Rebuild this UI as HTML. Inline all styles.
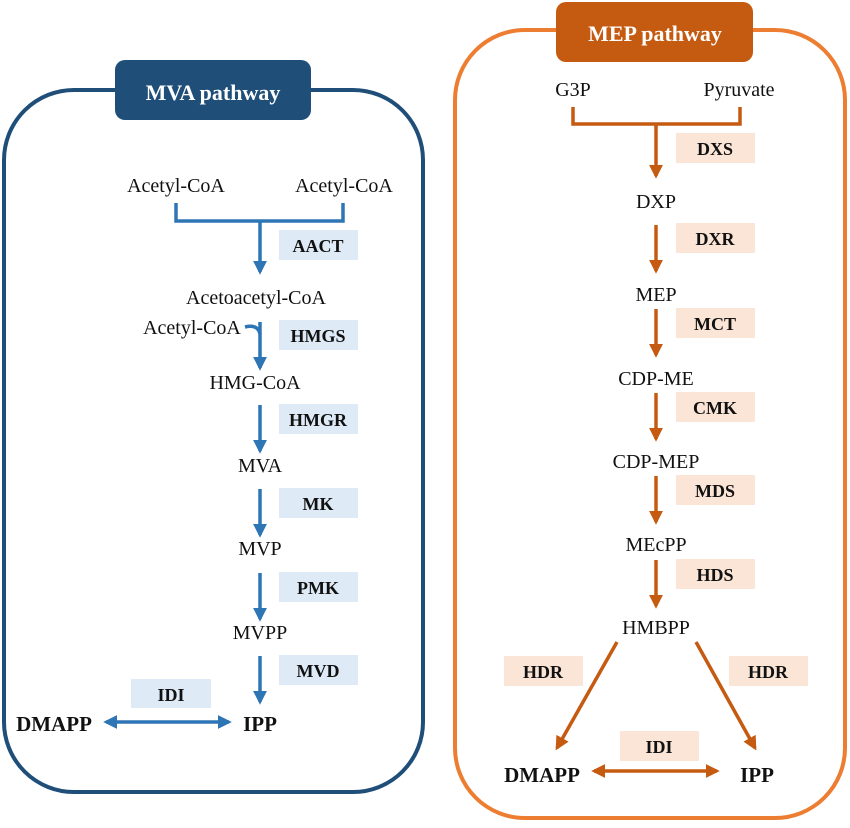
<!DOCTYPE html>
<html><head><meta charset="utf-8"><style>html,body{margin:0;padding:0;background:#fff}svg{display:block}svg text{font-family:"Liberation Serif",serif}</style></head>
<body>
<svg width="850" height="828" viewBox="0 0 850 828" xmlns="http://www.w3.org/2000/svg">
<defs>
<marker id="ab" viewBox="0 0 10 10" refX="8" refY="5" markerWidth="4" markerHeight="4" orient="auto-start-reverse"><path d="M0,0 L10,5 L0,10 z" fill="#2e75b6"/></marker>
<marker id="ao" viewBox="0 0 10 10" refX="8" refY="5" markerWidth="4" markerHeight="4" orient="auto-start-reverse"><path d="M0,0 L10,5 L0,10 z" fill="#c55a11"/></marker>
</defs>
<!-- Left box -->
<rect x="4" y="90" width="419" height="702" rx="70" fill="none" stroke="#1f4e79" stroke-width="4"/>
<rect x="115" y="60" width="196" height="60" rx="10" fill="#1f4e79"/>
<text x="213" y="100" text-anchor="middle" fill="#fff" font-weight="bold" font-size="22">MVA pathway</text>
<g font-size="20" fill="#111" text-anchor="middle">
<text x="176" y="192">Acetyl-CoA</text><text x="344" y="192">Acetyl-CoA</text>
<text x="256" y="304">Acetoacetyl-CoA</text>
<text x="192" y="334">Acetyl-CoA</text>
<text x="255" y="389">HMG-CoA</text>
<text x="260" y="472">MVA</text>
<text x="260" y="555">MVP</text>
<text x="260" y="639">MVPP</text>
</g>
<g fill="#deebf7">
<rect x="279" y="230" width="79" height="30"/><rect x="279" y="320" width="79" height="30"/>
<rect x="279" y="404" width="79" height="30"/><rect x="279" y="488" width="79" height="30"/>
<rect x="279" y="572" width="79" height="30"/><rect x="279" y="655" width="79" height="30"/>
<rect x="131" y="679" width="80" height="29"/>
</g>
<g font-size="18" font-weight="bold" fill="#111" text-anchor="middle">
<text x="318" y="252">AACT</text><text x="318" y="342">HMGS</text><text x="318" y="426">HMGR</text>
<text x="318" y="510">MK</text><text x="318" y="594">PMK</text><text x="318" y="677">MVD</text>
<text x="171" y="701">IDI</text>
<text x="54" y="731" font-size="21">DMAPP</text><text x="260" y="731" font-size="21">IPP</text>
</g>
<g stroke="#2e75b6" stroke-width="3.5" fill="none">
<path d="M176,203 V221 H343 V203"/>
<path d="M260,221 V272" marker-end="url(#ab)"/>
<path d="M245,327 Q258,324 260,334"/>
<path d="M260,322 V368" marker-end="url(#ab)"/>
<path d="M260,405 V451" marker-end="url(#ab)"/>
<path d="M260,489 V535" marker-end="url(#ab)"/>
<path d="M260,573 V619" marker-end="url(#ab)"/>
<path d="M260,656 V702" marker-end="url(#ab)"/>
<path d="M106,722 H229" marker-start="url(#ab)" marker-end="url(#ab)"/>
</g>
<!-- Right box -->
<rect x="455" y="30" width="390" height="788" rx="70" fill="none" stroke="#ed7d31" stroke-width="4"/>
<rect x="556" y="2" width="197" height="60" rx="10" fill="#c55a11"/>
<text x="655" y="41" text-anchor="middle" fill="#fff" font-weight="bold" font-size="22">MEP pathway</text>
<g font-size="20" fill="#111" text-anchor="middle">
<text x="573" y="96">G3P</text><text x="739" y="96">Pyruvate</text>
<text x="656" y="208">DXP</text><text x="656" y="301">MEP</text>
<text x="656" y="385">CDP-ME</text><text x="656" y="468">CDP-MEP</text>
<text x="656" y="551">MEcPP</text><text x="656" y="634">HMBPP</text>
</g>
<g fill="#fbe5d6">
<rect x="676" y="133" width="79" height="30"/><rect x="676" y="223" width="79" height="30"/>
<rect x="676" y="308" width="79" height="30"/><rect x="676" y="392" width="79" height="30"/>
<rect x="676" y="475" width="79" height="30"/><rect x="676" y="559" width="79" height="30"/>
<rect x="504" y="656" width="79" height="30"/><rect x="729" y="656" width="79" height="30"/>
<rect x="620" y="731" width="79" height="30"/>
</g>
<g font-size="18" font-weight="bold" fill="#111" text-anchor="middle">
<text x="715" y="155">DXS</text><text x="715" y="245">DXR</text><text x="715" y="330">MCT</text>
<text x="715" y="414">CMK</text><text x="715" y="497">MDS</text><text x="715" y="581">HDS</text>
<text x="543" y="678">HDR</text><text x="768" y="678">HDR</text><text x="659" y="753">IDI</text>
<text x="542" y="782" font-size="21">DMAPP</text><text x="757" y="782" font-size="21">IPP</text>
</g>
<g stroke="#c55a11" stroke-width="3.5" fill="none">
<path d="M573,107 V124 H740 V107"/>
<path d="M656,124 V176" marker-end="url(#ao)"/>
<path d="M656,225 V271" marker-end="url(#ao)"/>
<path d="M656,309 V355" marker-end="url(#ao)"/>
<path d="M656,393 V439" marker-end="url(#ao)"/>
<path d="M656,476 V522" marker-end="url(#ao)"/>
<path d="M656,560 V606" marker-end="url(#ao)"/>
<path d="M617,642 L557,748" marker-end="url(#ao)"/>
<path d="M696,642 L755,748" marker-end="url(#ao)"/>
<path d="M594,771 H717" marker-start="url(#ao)" marker-end="url(#ao)"/>
</g>
</svg>
</body></html>
